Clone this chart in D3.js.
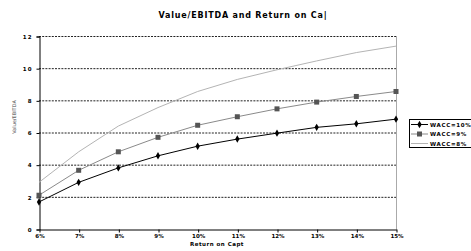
<!DOCTYPE html>
<meta charset="utf-8">
<script src="https://d3js.org/d3.v7.min.js"></script>
<style>
  body { margin: 0; background: #fff; }
  text { font-family: "DejaVu Sans", sans-serif; }
</style>
<body>
<script>
var returns = ["6%", "7%", "8%", "9%", "10%", "11%", "12%", "13%", "14%", "15%"];
var wacc10 = [1.68, 2.9, 3.8, 4.55, 5.15, 5.59, 5.96, 6.32, 6.54, 6.83];
var wacc9 = [2.1, 3.65, 4.8, 5.7, 6.45, 6.98, 7.47, 7.89, 8.24, 8.55];
var wacc8 = [2.9, 4.8, 6.4, 7.55, 8.55, 9.3, 9.9, 10.45, 10.97, 11.37];
var yTicks = [0, 2, 4, 6, 8, 10, 12];
var seriesNames = ["WACC=10%", "WACC=9%", "WACC=8%"];

var W = 471, H = 251;
var svg = d3.select("body").append("svg").attr("width", W).attr("height", H);

var x = d3.scalePoint().domain(returns).range([39, 396]);
var y = d3.scaleLinear().domain([0, 12]).range([229, 36]);

var series = [
  { name: seriesNames[0], values: wacc10, line: "#000", marker: "diamond", mcolor: "#000" },
  { name: seriesNames[1], values: wacc9, line: "#8a8a8a", marker: "square", mcolor: "#555" },
  { name: seriesNames[2], values: wacc8, line: "#b4b4b4", marker: "none", mcolor: "#fff" }
];

// title
svg.append("text").attr("x", 243).attr("y", 18).attr("text-anchor", "middle")
  .attr("font-size", 8).attr("font-weight", "bold").attr("letter-spacing", 0.8)
  .text("Value/EBITDA and Return on Ca|");

// gridlines
svg.append("g").selectAll("line").data(yTicks.filter(d => d > 0)).enter().append("line")
  .attr("x1", 39).attr("x2", 396)
  .attr("y1", d => y(d) + 0.5).attr("y2", d => y(d) + 0.5)
  .attr("stroke", "#222").attr("stroke-dasharray", "2,1.2");

// right border
svg.append("line").attr("x1", 396.5).attr("x2", 396.5).attr("y1", 36).attr("y2", 229)
  .attr("stroke", "#aaa");

// y axis
var yAxis = svg.append("g").attr("transform", "translate(39.5,0.5)")
  .call(d3.axisLeft(y).tickValues(yTicks).tickSize(3).tickFormat(d3.format("d")));
yAxis.select(".domain").attr("stroke", "#000");
yAxis.selectAll("text").attr("font-size", 5.5).attr("letter-spacing", 1).attr("font-weight", "bold")
  .attr("x", -7);

// x axis
var xAxis = svg.append("g").attr("transform", "translate(0.5,229.5)")
  .call(d3.axisBottom(x).tickSize(3).tickSizeOuter(0));
xAxis.select(".domain").attr("stroke", "#000");
xAxis.selectAll("text").attr("font-size", 5.5).attr("font-weight", "bold").attr("y", 5);

// axis labels
svg.append("text").attr("x", 217).attr("y", 246).attr("text-anchor", "middle")
  .attr("font-size", 5.5).attr("font-weight", "bold").attr("letter-spacing", 0.5)
  .text("Return on Capt");
svg.append("text").attr("transform", "translate(16,117) rotate(-90)").attr("text-anchor", "middle")
  .attr("font-size", 5).attr("fill", "#444").text("Value/EBITDA");

// lines
var line = d3.line().x((d, i) => x(returns[i])).y(d => y(d));
series.slice().reverse().forEach(function (s) {
  svg.append("path").datum(s.values).attr("d", line)
    .attr("fill", "none").attr("stroke", s.line).attr("stroke-width", 1);
});

function drawMarker(g, s, cx, cy) {
  if (s.marker === "diamond") {
    g.append("path").attr("d", d3.symbol(d3.symbolDiamond, 16)())
      .attr("transform", "translate(" + cx + "," + cy + ")").attr("fill", s.mcolor);
  } else if (s.marker === "square") {
    g.append("rect").attr("x", cx - 2.5).attr("y", cy - 2.5).attr("width", 5).attr("height", 5)
      .attr("fill", s.mcolor);
  }
}

series.forEach(function (s) {
  var g = svg.append("g");
  s.values.forEach(function (v, i) { drawMarker(g, s, x(returns[i]), y(v)); });
});

// legend
var lg = svg.append("g");
lg.append("rect").attr("x", 409.5).attr("y", 119.5).attr("width", 70).attr("height", 28)
  .attr("fill", "#fff").attr("stroke", "#000");
series.forEach(function (s, i) {
  var ly = 124.5 + i * 9.5;
  lg.append("line").attr("x1", 411).attr("x2", 428).attr("y1", ly).attr("y2", ly)
    .attr("stroke", s.line);
  drawMarker(lg, s, 419.5, ly);
  lg.append("text").attr("x", 430).attr("y", ly + 2).attr("font-size", 5.5)
    .attr("font-weight", "bold").attr("letter-spacing", 0.7).text(s.name);
});
</script>
</body>
